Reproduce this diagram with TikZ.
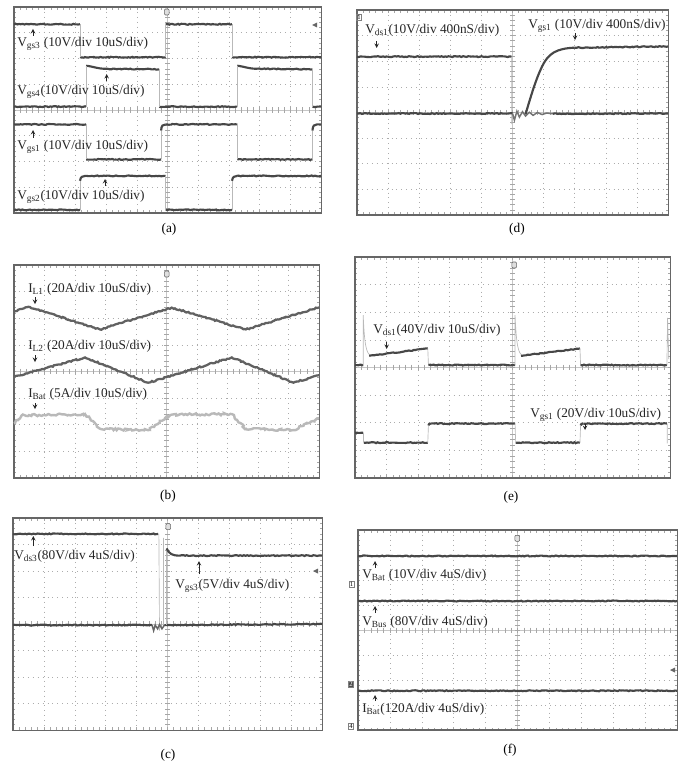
\documentclass[tikz,border=0pt]{standalone}
\usepackage{amsmath}
\usepackage{fontspec}
\setmainfont{Liberation Serif}
\usepackage{tikz}
\usetikzlibrary{decorations.pathmorphing}

\begin{document}
\begin{tikzpicture}[x=0.75pt,y=-0.75pt,
  gridline/.style={gray!65,line width=.45pt,dash pattern=on .7pt off 3pt},
  axisline/.style={gray!45,line width=.4pt},
  tickline/.style={gray!70,line width=.4pt},
  screenframe/.style={black!60,line width=.8pt},
  plaintrace/.style={black!72,line width=1.6pt},
  trace/.style={plaintrace,decorate,decoration={random steps,segment length=1.3pt,amplitude=.35pt}},
  rampstrace/.style={black!62,line width=1.7pt,decorate,decoration={random steps,segment length=1.3pt,amplitude=.5pt}},
  lighttrace/.style={gray!55,line width=1.8pt,decorate,decoration={random steps,segment length=1.3pt,amplitude=.8pt}},
  fastedge/.style={gray!55,line width=.5pt},
  siglabel/.style={anchor=west,inner sep=0pt,text=black!85,font=\fontsize{10}{12}\selectfont},
  panelcap/.style={font=\fontsize{10}{12}\selectfont},
  sigarrow/.style={->,>=stealth,line width=.5pt,black!85},
  trigmark/.style={draw=black!60,fill=gray!25,line width=.4pt,minimum width=3.5pt,minimum height=4.5pt,inner sep=0pt,rounded corners=.8pt},
  chanmark/.style={draw=black!50,inner sep=.6pt,font=\fontsize{5}{5}\selectfont},
  scopescreen/.pic={
    \draw[gridline] \foreach \i in {1,...,9} {(\i,0) -- (\i,8)};
    \draw[gridline] \foreach \j in {1,...,7} {(0,\j) -- (10,\j)};
    \draw[axisline] (5,0) -- (5,8) (0,4) -- (10,4);
    \draw[tickline] \foreach \t in {0.2,0.4,...,9.9} {(\t,3.9) -- (\t,4.1) (\t,0) -- (\t,0.1) (\t,8) -- (\t,7.9)};
    \draw[tickline] \foreach \t in {0.2,0.4,...,7.9} {(4.92,\t) -- (5.08,\t) (0,\t) -- (0.07,\t) (10,\t) -- (9.93,\t)};
    \draw[screenframe] (0,0) rectangle (10,8);
  }]
\path[fill=white,use as bounding box] (0,0) rectangle (690,763);

% (a) gate signals
\begin{scope}[shift={(14,7)},x=23.03pt,y=-19.31pt]
\pic {scopescreen};
\draw[trace] (0,0.67) -- (2.15,0.67);
\draw[trace] (2.15,1.95) -- (4.94,1.95);
\draw[trace] (4.94,0.67) -- (7.1,0.67);
\draw[trace] (7.1,1.95) -- (10,1.95);
\draw[fastedge] (2.15,0.67) -- (2.15,1.95) (4.94,1.95) -- (4.94,0.67) (7.1,0.67) -- (7.1,1.95);
\draw[trace] (0,3.87) -- (2.35,3.87);
\draw[plaintrace] (2.35,2.28) .. controls (2.55,2.3) and (2.7,2.4) .. (3,2.4);
\draw[trace] (3,2.4) -- (4.73,2.42);
\draw[trace] (4.73,3.87) -- (7.27,3.87);
\draw[plaintrace] (7.27,2.28) .. controls (7.47,2.3) and (7.62,2.4) .. (7.92,2.4);
\draw[trace] (7.92,2.4) -- (9.72,2.42);
\draw[trace] (9.72,3.87) -- (10,3.87);
\draw[fastedge] (2.35,3.87) -- (2.35,2.28) (4.73,2.42) -- (4.73,3.87) (7.27,3.87) -- (7.27,2.28) (9.72,2.42) -- (9.72,3.87);
\draw[trace] (0,4.56) -- (2.35,4.56);
\draw[trace] (2.35,5.92) -- (4.79,5.92);
\draw[plaintrace] (4.79,4.8) .. controls (4.8,4.6) and (4.85,4.56) .. (4.94,4.56);
\draw[trace] (4.94,4.56) -- (7.27,4.56);
\draw[trace] (7.27,5.92) -- (9.72,5.92);
\draw[plaintrace] (9.72,4.8) .. controls (9.73,4.6) and (9.78,4.56) .. (9.87,4.56) -- (10,4.56);
\draw[fastedge] (2.35,4.56) -- (2.35,5.92) (7.27,4.56) -- (7.27,5.92) (4.79,5.92) -- (4.79,4.8) (9.72,5.92) -- (9.72,4.8);
\draw[trace] (0,7.88) -- (2.15,7.88);
\draw[plaintrace] (2.15,6.75) .. controls (2.17,6.6) and (2.22,6.56) .. (2.32,6.56);
\draw[trace] (2.32,6.56) -- (4.94,6.56);
\draw[trace] (4.94,7.88) -- (7.1,7.88);
\draw[plaintrace] (7.1,6.75) .. controls (7.12,6.6) and (7.17,6.56) .. (7.27,6.56);
\draw[trace] (7.27,6.56) -- (10,6.56);
\draw[fastedge] (2.15,7.88) -- (2.15,6.75) (4.94,6.56) -- (4.94,7.88) (7.1,7.88) -- (7.1,6.75);
\end{scope}
\node[trigmark] (atrig) at (166.7,12) {};
\fill[black!60] (312,25) -- (317,22.5) -- (317,27.5) -- cycle;
\node[siglabel] (avgs3) at (17,44) {V\textsubscript{gs3} (10V/div 10uS/div)};
\node[siglabel] (avgs4) at (17,91.7) {V\textsubscript{gs4}(10V/div 10uS/div)};
\node[siglabel] (avgs1) at (17,146.7) {V\textsubscript{gs1} (10V/div 10uS/div)};
\node[siglabel] (avgs2) at (17,197.3) {V\textsubscript{gs2}(10V/div 10uS/div)};
\draw[sigarrow] (33,36) -- (33,29);
\draw[sigarrow] (106.7,81) -- (106.7,74);
\draw[sigarrow] (33,138) -- (33,130);
\draw[sigarrow] (105,186) -- (105,179);
\node[panelcap] (capa) at (169,229) {(a)};

% (d) turn-on detail
\begin{scope}[shift={(357,10)},x=23.33pt,y=-19.22pt]
\pic {scopescreen};
\draw[trace] (0,1.82) -- (4.97,1.82);
\draw[fastedge] (4.97,1.82) -- (4.97,4.45) -- (5.02,4.04);
\draw[trace] (0,4.04) -- (5.0,4.04);
\draw[plaintrace,black!55,line width=1.1pt] (5.0,4.04) -- (5.06,4.3) -- (5.14,3.95) -- (5.22,4.18) -- (5.32,3.97) -- (5.42,4.14) -- (5.54,3.99) -- (5.66,4.11) -- (5.8,4.0) -- (5.95,4.08) -- (6.1,4.02) -- (6.3,4.05);
\draw[trace] (6.3,4.05) -- (10,4.04);
\draw[plaintrace] (5.42,4.06) .. controls (5.58,3.4) and (5.75,2.7) .. (5.95,2.2) .. controls (6.15,1.7) and (6.4,1.5) .. (7,1.47);
\draw[trace] (7,1.47) -- (10,1.42);
\end{scope}
\node[chanmark] (dch) at (359,17) {1};
\node[siglabel] (dvds1) at (365,30) {V\textsubscript{ds1}(10V/div 400nS/div)};
\node[siglabel] (dvgs1) at (528,26) {V\textsubscript{gs1} (10V/div 400nS/div)};
\draw[sigarrow] (376.7,41) -- (376.7,48);
\draw[sigarrow] (575,33) -- (575,40);
\node[panelcap] (capd) at (517,229) {(d)};

% (b) inductor and battery currents
\begin{scope}[shift={(14,265)},x=22.88pt,y=-19.97pt]
\pic {scopescreen};
\draw[rampstrace] (0,1.75) -- (0.47,1.57) -- (2.82,2.42) -- (5.17,1.6) -- (7.6,2.42) -- (10,1.59);
\draw[rampstrace] (0,4.2) -- (2.33,3.47) -- (4.4,4.42) -- (7.14,3.47) -- (9.16,4.42) -- (10,4.14);
\draw[lighttrace] (0,5.95) -- (0.25,5.65) -- (2.33,5.6) -- (2.82,6.15) -- (4.4,6.2) -- (4.95,5.75) -- (5.17,5.62) -- (7.14,5.6) -- (7.6,6.15) -- (9.16,6.2) -- (10,5.75);
\end{scope}
\node[trigmark] (btrig) at (166.7,274) {};
\node[siglabel] (bil1) at (28,289) {I\textsubscript{L1} (20A/div 10uS/div)};
\node[siglabel] (bil2) at (28,346.7) {I\textsubscript{L2} (20A/div 10uS/div)};
\node[siglabel] (bibat) at (28,394) {I\textsubscript{Bat} (5A/div 10uS/div)};
\draw[sigarrow] (35,297) -- (35,304);
\draw[sigarrow] (35,355) -- (35,362);
\draw[sigarrow] (35,403) -- (35,409);
\node[panelcap] (capb) at (168,496) {(b)};

% (e) drain-source and gate
\begin{scope}[shift={(355,257)},x=23.63pt,y=-20.72pt]
\pic {scopescreen};
\draw[trace] (0,3.91) -- (0.26,3.91);
\draw[fastedge] (0.26,3.91) -- (0.26,2.1) .. controls (0.3,3.2) and (0.36,3.5) .. (0.5,3.56);
\draw[trace] (0.45,3.58) -- (2.31,3.31);
\draw[fastedge] (2.31,3.31) -- (2.33,3.91);
\draw[trace] (2.33,3.91) -- (5.08,3.91);
\draw[fastedge] (5.08,3.91) -- (5.08,2.1) .. controls (5.12,3.2) and (5.18,3.5) .. (5.32,3.56);
\draw[trace] (5.27,3.58) -- (7.14,3.31);
\draw[fastedge] (7.14,3.31) -- (7.16,3.91);
\draw[trace] (7.16,3.91) -- (9.9,3.91);
\draw[fastedge] (9.9,3.91) -- (9.92,2.2) -- (9.96,3.7);
\draw[trace] (0,6.36) -- (0.26,6.36);
\draw[trace] (0.28,6.72) -- (2.31,6.72);
\draw[plaintrace] (2.33,6.1) .. controls (2.35,6.03) .. (2.42,6.03);
\draw[trace] (2.42,6.03) -- (5.08,6.03);
\draw[trace] (5.1,6.72) -- (7.14,6.72);
\draw[plaintrace] (7.16,6.1) .. controls (7.18,6.03) .. (7.25,6.03);
\draw[trace] (7.25,6.03) -- (9.9,6.03);
\draw[fastedge] (0.27,6.36) -- (0.27,6.72) (2.31,6.72) -- (2.33,6.1) (5.08,6.03) -- (5.1,6.72) (7.14,6.72) -- (7.16,6.1) (9.91,6.03) -- (9.91,6.75);
\end{scope}
\node[trigmark] (etrig) at (514.3,265) {};
\node[siglabel] (evds1) at (373,330) {V\textsubscript{ds1}(40V/div 10uS/div)};
\node[siglabel] (evgs1) at (530,415) {V\textsubscript{gs1} (20V/div 10uS/div)};
\draw[sigarrow] (386.7,342) -- (386.7,349);
\draw[sigarrow] (585,424) -- (585,430);
\node[panelcap] (cape) at (511,497) {(e)};

% (c) turn-off detail
\begin{scope}[shift={(13,518)},x=23.18pt,y=-19.88pt]
\pic {scopescreen};
\draw[trace] (0,0.6) -- (4.7,0.6);
\draw[fastedge] (4.72,0.6) -- (4.74,4.25) (4.87,0.75) -- (4.87,4.1);
\draw[trace] (0,4.04) -- (4.5,4.04);
\draw[plaintrace,black!60,line width=1.1pt] (4.5,4.04) -- (4.55,4.25) -- (4.6,4.04) -- (4.68,4.18) -- (4.74,4.02) -- (4.82,4.18) -- (4.9,4.04);
\draw[trace] (4.9,4.04) -- (10,4.0);
\draw[fastedge] (4.97,4.04) -- (4.97,1.15);
\draw[plaintrace] (4.97,1.15) .. controls (5.05,1.35) and (5.15,1.42) .. (5.4,1.42);
\draw[trace] (5.4,1.42) -- (10,1.42);
\end{scope}
\node[trigmark] (ctrig) at (168.3,526.7) {};
\fill[black!60] (313,571) -- (318,568.5) -- (318,573.5) -- cycle;
\node[siglabel] (cvds3) at (14,556) {V\textsubscript{ds3}(80V/div 4uS/div)};
\node[siglabel] (cvgs3) at (175,586) {V\textsubscript{gs3}(5V/div 4uS/div)};
\draw[sigarrow] (33.3,546) -- (33.3,536);
\draw[sigarrow] (199,574) -- (199,561);
\node[panelcap] (capc) at (168,755) {(c)};

% (f) battery and bus
\begin{scope}[shift={(358,530)},x=23.93pt,y=-18.75pt]
\pic {scopescreen};
\draw[trace] (0,1.04) -- (10,1.04);
\draw[trace] (0,2.84) -- (10,2.84);
\draw[trace] (0,6.43) -- (10,6.43);
\end{scope}
\node[trigmark] (ftrig) at (517.3,538.3) {};
\fill[black!60] (670,670) -- (675,667.5) -- (675,672.5) -- cycle;
\node[chanmark] (fch1) at (351.5,584.3) {1};
\node[chanmark,fill=black!70,text=white] (fch2) at (351,684) {2};
\node[chanmark] (fch4) at (351,726.5) {4};
\node[siglabel] (fvbat) at (362,575) {V\textsubscript{Bat} (10V/div 4uS/div)};
\node[siglabel] (fvbus) at (362,622) {V\textsubscript{Bus} (80V/div 4uS/div)};
\node[siglabel] (fibat) at (362,709) {I\textsubscript{Bat}(120A/div 4uS/div)};
\draw[sigarrow] (375,568) -- (375,561);
\draw[sigarrow] (375,613) -- (375,606);
\draw[sigarrow] (375,701) -- (375,695);
\node[panelcap] (capf) at (510,750) {(f)};
\end{tikzpicture}
\end{document}
